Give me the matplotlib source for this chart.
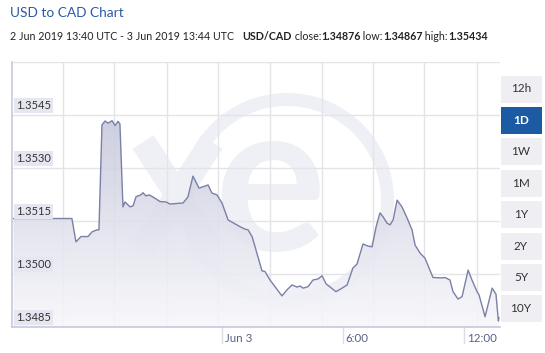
import numpy as np
import matplotlib
matplotlib.use("Agg")
import matplotlib.pyplot as plt
from matplotlib.patches import Rectangle, Annulus

plt.rcParams['font.family'] = ['Lato', 'DejaVu Sans']

# hours relative to 3 Jun 2019 00:00 UTC, and USD/CAD rate
hours = [-10.33, -7.44, -7.24, -6.99, -6.64, -6.45, -6.20, -6.10, -5.95, -5.80, -5.65, -5.45,
         -5.30, -5.16, -5.06, -4.91, -4.81, -4.56, -4.41, -4.26, -4.02, -3.92, -3.77, -3.62,
         -3.42, -3.07, -2.78, -2.58, -1.93, -1.69, -1.44, -1.14, -0.69, -0.50, -0.25, 0.00,
         0.30, 0.55, 0.89, 1.14, 1.29, 1.49, 1.64, 1.98, 2.13, 2.38, 2.63, 2.97, 3.22, 3.47,
         3.72, 3.87, 4.02, 4.26, 4.51, 4.76, 4.96, 5.16, 5.65, 5.95, 6.20, 6.49, 6.69, 6.99,
         7.24, 7.44, 7.64, 7.83, 7.98, 8.18, 8.33, 8.48, 8.68, 8.92, 9.17, 9.42, 9.57, 9.82,
         10.06, 10.46, 10.91, 11.06, 11.30, 11.45, 11.70, 11.90, 12.20, 12.39, 12.64, 12.74,
         13.04, 13.39, 13.58, 13.70, 13.73]
rates = [1.35157, 1.35157, 1.35091, 1.35106, 1.35106, 1.35119, 1.35125, 1.35125, 1.35422, 1.35433,
         1.35427, 1.35434, 1.35420, 1.35432, 1.35425, 1.35190, 1.35204, 1.35190, 1.35193, 1.35219,
         1.35224, 1.35230, 1.35221, 1.35224, 1.35218, 1.35205, 1.35204, 1.35198, 1.35201, 1.35218,
         1.35277, 1.35243, 1.35252, 1.35229, 1.35224, 1.35201, 1.35153, 1.35145, 1.35134, 1.35127,
         1.35125, 1.35106, 1.35077, 1.35009, 1.35007, 1.34983, 1.34964, 1.34938, 1.34955, 1.34969,
         1.34963, 1.34966, 1.34960, 1.34964, 1.34983, 1.34986, 1.34995, 1.34972, 1.34950, 1.34960,
         1.34969, 1.35017, 1.35028, 1.35085, 1.35079, 1.35077, 1.35134, 1.35173, 1.35162, 1.35144,
         1.35139, 1.35153, 1.35209, 1.35190, 1.35159, 1.35125, 1.35082, 1.35059, 1.35045, 1.34990,
         1.34989, 1.34990, 1.34983, 1.34950, 1.34929, 1.34936, 1.35011, 1.34983, 1.34950, 1.34941,
         1.34879, 1.34960, 1.34943, 1.34867, 1.34876]

yticks = [1.3485, 1.3500, 1.3515, 1.3530, 1.3545]
xtick_pos = [0, 6, 12]
xtick_labels = ["Jun 3", "6:00", "12:00"]
grid_x = [-7.88, -5.35, -2.73, -0.20, 2.38, 4.96, 7.49, 10.0, 12.64]
buttons = ["12h", "1D", "1W", "1M", "1Y", "2Y", "5Y", "10Y"]
selected = "1D"

W, H = 545, 353
fig = plt.figure(figsize=(W / 100, H / 100), dpi=100)
fig.patch.set_facecolor("white")

# pixel overlay for the xe watermark and the range buttons (behind the chart)
bg = fig.add_axes([0, 0, 1, 1], zorder=0)
bg.set_xlim(0, W)
bg.set_ylim(H, 0)
bg.axis("off")
wm = "#eff0f5"
bg.add_patch(Annulus((287, 200), 107, 13, color=wm, lw=0))
bg.plot([143, 212], [142, 248], color=wm, lw=18, solid_capstyle="butt")
bg.plot([212, 143], [142, 248], color=wm, lw=18, solid_capstyle="butt")
bg.text(270, 250, "e", fontsize=150, fontweight="bold", color=wm, ha="center", va="baseline")

for i, b in enumerate(buttons):
    yc = 89 + i * 31.4
    sel = b == selected
    bg.add_patch(Rectangle((501, yc - 13.5), 41, 27, color="#1c5ba3" if sel else "#eeeef3", lw=0))
    bg.text(521, yc, b, fontsize=8.5, ha="center", va="center",
            color="white" if sel else "#333333", fontweight="bold" if sel else "normal")

ax = fig.add_axes([12 / W, (H - 327) / H, (500 - 12) / W, (327 - 62) / H], zorder=1)
ax.patch.set_alpha(0)
ax.set_xlim(-10.41, 13.78)
ax.set_ylim(1.3485, 1.3560)

for gx in grid_x:
    ax.axvline(gx, color="#e3e3e8", lw=1, zorder=1)
for gy in yticks[1:] + [1.3560]:
    ax.axhline(gy, color="#e3e3e8", lw=1, zorder=1)

# gradient fill under the line
poly = ax.fill_between(hours, rates, 1.3485, color="none", lw=0)
grad = np.linspace(0, 1, 256).reshape(-1, 1, 1)
top = np.array([0.76, 0.77, 0.85])
bot = np.array([0.97, 0.97, 0.985])
img = bot + (top - bot) * grad
im = ax.imshow(img, extent=[-10.41, 13.78, 1.3485, 1.3550], origin="lower",
               aspect="auto", alpha=0.88, zorder=2)
im.set_clip_path(poly.get_paths()[0], transform=ax.transData)
ax.plot(hours, rates, color="#7a80a6", lw=1.0, zorder=3)

ax.set_xticks([])
ax.set_yticks([])
for s in ["top", "right"]:
    ax.spines[s].set_visible(False)
for s in ["left", "bottom"]:
    ax.spines[s].set_color("#c6c9dc")
    ax.spines[s].set_linewidth(1.2)

for yt in yticks:
    ax.annotate(f"{yt:.4f}", xy=(0, yt), xycoords=("axes fraction", "data"),
                xytext=(3, 3), textcoords="offset points", fontsize=8, color="#333333",
                va="bottom", ha="left", zorder=5,
                bbox=dict(boxstyle="square,pad=0.15", fc="#e5e6f0", ec="none"))

for xp, lab in zip(xtick_pos, xtick_labels):
    ax.plot([xp, xp], [0, -0.06], transform=ax.get_xaxis_transform(), color="#dcdde6",
            lw=1, clip_on=False)
    ax.annotate(lab, xy=(xp, 0), xycoords=("data", "axes fraction"), xytext=(2, -4),
                textcoords="offset points", fontsize=8.3, color="#5b6088", va="top", ha="left")

# titles
fig.text(10 / W, 1 - 13 / H, "USD to CAD Chart", fontsize=9.9, color="#2a59a8", va="center")
parts = [("2 Jun 2019 13:40 UTC - 3 Jun 2019 13:44 UTC   ", "normal"), ("USD/CAD", "bold"),
         (" close:", "normal"), ("1.34876", "bold"), (" low:", "normal"), ("1.34867", "bold"),
         (" high:", "normal"), ("1.35434", "bold")]
prev = fig.text(10 / W, 1 - 37 / H, parts[0][0], fontsize=7.7, color="#222222", va="center")
for txt, wt in parts[1:]:
    prev = ax.annotate(txt, xy=(1, 0), xycoords=prev, va="bottom", ha="left",
                       fontsize=7.7, color="#222222", fontweight=wt, annotation_clip=False)

fig.savefig("out.png", dpi=100)
